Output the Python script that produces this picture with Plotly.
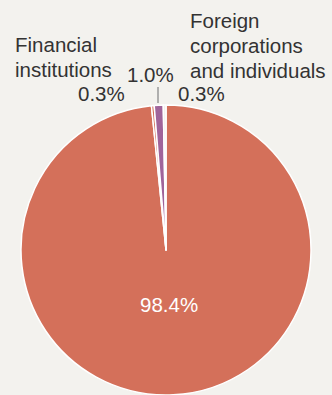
import plotly.graph_objects as go

categories = ["Other", "Financial institutions", "Government", "Foreign corporations and individuals"]
values = [98.4, 0.3, 1.0, 0.3]
colors = ["#D4705A", "#D4705A", "#A0649A", "#F2F0EC"]

W, H = 332, 395
def px(x): return x / W
def py(y): return 1 - y / H

FS = 20.5
fig = go.Figure(go.Pie(
    labels=categories,
    values=values,
    sort=False,
    direction="clockwise",
    rotation=0,
    marker=dict(colors=colors, line=dict(color="white", width=1.5)),
    textinfo="none",
    domain=dict(x=[0, 1], y=[0, 290 / H]),
    hoverinfo="label+percent",
    showlegend=False,
))

font = dict(family="Liberation Sans, Arial", size=FS, color="#333333")
off = 0.36 * FS  # baseline -> visual centre

def line(x, baseline, text, anchor="left", color=None):
    f = dict(font)
    if color:
        f["color"] = color
    return dict(x=px(x), y=py(baseline - off), text=text, xanchor=anchor, yanchor="middle",
                xref="paper", yref="paper", showarrow=False, font=f)

fin_words = categories[1].split(" ")
for_words = ["Foreign", "corporations", "and individuals"]
ann = [
    line(13, 52, fin_words[0]),
    line(13, 77, fin_words[1]),
    line(188, 28, for_words[0]),
    line(188, 53, for_words[1]),
    line(188, 78, for_words[2]),
    line(101.5, 101, f"{values[1]:.1f}%", "center"),
    line(150, 82, f"{values[2]:.1f}%", "center"),
    line(201.5, 101, f"{values[3]:.1f}%", "center"),
    line(168.5, 311.5, f"{values[0]:.1f}%", "center", color="white"),
]

fig.update_layout(
    width=W, height=H,
    margin=dict(l=0, r=0, t=0, b=0),
    paper_bgcolor="#F3F2EE",
    plot_bgcolor="#F3F2EE",
    annotations=ann,
    shapes=[dict(type="line", xref="paper", yref="paper", x0=px(158), x1=px(158), y0=py(87), y1=py(103),
                 line=dict(color="#999999", width=1.5))],
)
fig.write_html("out.html")
